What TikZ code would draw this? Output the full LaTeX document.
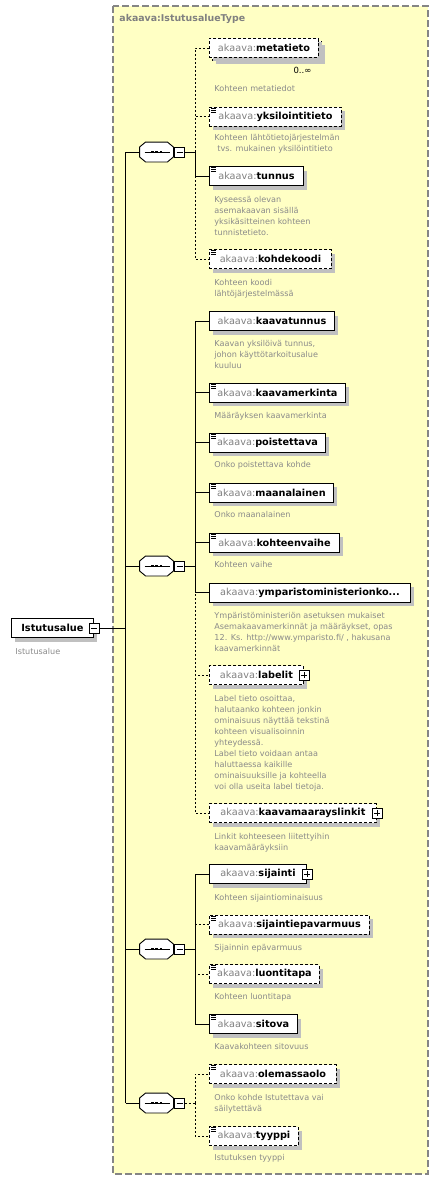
\documentclass[tikz,border=0pt]{standalone}
\usepackage{fontspec}
\setmainfont{DejaVu Sans}
\usetikzlibrary{shadows}
\definecolor{bgyellow}{HTML}{FFFFC4}
\definecolor{pfx}{HTML}{808080}
\definecolor{desccol}{HTML}{8A8A8A}
\definecolor{shadowgray}{HTML}{C0C0C0}
\definecolor{framecol}{HTML}{858585}
\newcommand{\akn}[1]{\textcolor{pfx}{akaava:}\textbf{#1}}
\newcommand{\simpleicon}[1]{%
  \draw[line width=0.7pt] ([xshift=2pt,yshift=-1.5pt]#1.north west) -- +(5pt,0)
    ([xshift=2pt,yshift=-3.5pt]#1.north west) -- +(4.5pt,0)
    ([xshift=2pt,yshift=-5.5pt]#1.north west) -- +(4.5pt,0);}
\newcommand{\octpath}[1]{([xshift=6pt]#1.north west) -- ([xshift=-6pt]#1.north east) -- ([yshift=-5pt]#1.north east) -- ([yshift=5pt]#1.south east) -- ([xshift=-6pt]#1.south east) -- ([xshift=6pt]#1.south west) -- ([yshift=5pt]#1.south west) -- ([yshift=-5pt]#1.north west) -- cycle}
\newcommand{\seqshape}[1]{%
  \fill[shadowgray,shift={(4pt,-4pt)}] \octpath{#1};
  \draw[fill=white] \octpath{#1};
  \draw[line width=0.8pt] ([xshift=5pt]#1.west) -- ([xshift=-3pt]#1.east);
  \fill ([xshift=-5.6pt,yshift=-1.3pt]#1.center) rectangle ([xshift=-3pt,yshift=1.3pt]#1.center);
  \fill ([xshift=-1.3pt,yshift=-1.3pt]#1.center) rectangle ([xshift=1.3pt,yshift=1.3pt]#1.center);
  \fill ([xshift=3pt,yshift=-1.3pt]#1.center) rectangle ([xshift=5.6pt,yshift=1.3pt]#1.center);}
\begin{document}
\begin{tikzpicture}[x=1pt,y=-1pt,line width=0.9pt,
  shad/.style={drop shadow={shadow xshift=4pt,shadow yshift=-4pt,fill=shadowgray,opacity=1}},
  elem/.style={draw=black,fill=white,shad,anchor=west,minimum height=19pt,inner sep=0pt,font=\fontsize{9.7}{11}\selectfont},
  optbox/.style={elem,dash pattern=on 3pt off 2pt},
  opt/.style={dash pattern=on 2pt off 2pt},
  desctext/.style={anchor=north west,inner sep=0pt,align=left,text=desccol,font=\fontsize{8.1}{11}\selectfont},
  btn/.style={draw=black,fill=white,minimum size=10pt,inner sep=0pt,line width=0.8pt},
  minusbtn/.style={btn,path picture={\draw[line width=0.8pt] ([xshift=2pt]path picture bounding box.west) -- ([xshift=-2pt]path picture bounding box.east);}},
  plusbtn/.style={btn,path picture={\draw[line width=0.8pt] ([xshift=2pt]path picture bounding box.west) -- ([xshift=-2pt]path picture bounding box.east) ([yshift=2pt]path picture bounding box.south) -- ([yshift=-2pt]path picture bounding box.north);}},
  seqbox/.style={rectangle,minimum width=33pt,minimum height=19pt,inner sep=0pt},
]
\useasboundingbox (0,0) rectangle (439,1180);
\fill[white] (0,0) rectangle (439,1180);
% type frame
\draw[framecol,fill=bgyellow,line width=1.3pt,dash pattern=on 7pt off 3pt] (113,6) rectangle (428,1174);
\node[anchor=west,inner sep=0pt,text=pfx,font=\fontsize{9.4}{11}\selectfont\bfseries] (typename) at (119,19) {akaava:IstutusalueType};

% main element
\node[elem,minimum width=82pt,font=\fontsize{9.8}{11}\selectfont\bfseries] (istutusalue) at (11,628) {Istutusalue};
\node[minusbtn] (m0) at (istutusalue.east) {};
\node[desctext] (d0) at (15,646.3) {\strut Istutusalue};

% trunk
\coordinate (t0) at (125.5,628);
\coordinate (tr1) at (125.5,152);
\coordinate (tr2) at (125.5,566);
\coordinate (tr3) at (125.5,949);
\coordinate (tr4) at (125.5,1103);
\draw (m0.east) -- (t0);
\draw (tr1) -- (tr4);

% sequences
\node[seqbox] (seq1) at (156.5,152) {};
\node[seqbox] (seq2) at (156.5,566) {};
\node[seqbox] (seq3) at (156.5,949) {};
\node[seqbox] (seq4) at (156.5,1103) {};
\seqshape{seq1}
\seqshape{seq2}
\seqshape{seq3}
\seqshape{seq4}
\node[minusbtn] (sm1) at (179.5,152) {};
\node[minusbtn] (sm2) at (179.5,566) {};
\node[minusbtn] (sm3) at (179.5,949) {};
\node[minusbtn] (sm4) at (179.5,1103) {};
\draw (tr1) -- (seq1.west);
\draw (tr2) -- (seq2.west);
\draw (tr3) -- (seq3.west);
\draw (tr4) -- (seq4.west);
\coordinate (b1) at (195,152);
\coordinate (b2) at (195,566);
\coordinate (b3) at (195,949);
\coordinate (b4) at (195,1103);
\draw (sm1.east) -- (b1);
\draw (sm2.east) -- (b2);
\draw (sm3.east) -- (b3);
\draw[opt] (sm4.east) -- (b4);

% ---- sequence 1
\node[optbox,minimum width=109pt] (metaback) at (212,51) {};
\node[optbox,minimum width=109pt] (metatieto) at (209,48) {\akn{metatieto}};
\node[inner sep=0pt,font=\fontsize{8.5}{10}\selectfont] (occ) at (302.5,70) {0..∞};
\node[desctext] (dmeta) at (214,83.3) {\strut Kohteen metatiedot};

\node[optbox,minimum width=132pt] (yksilointitieto) at (209,116.5) {\akn{yksilointitieto}};
\simpleicon{yksilointitieto}
\node[desctext] (dyks) at (214,132.6) {\strut Kohteen lähtötietojärjestelmän\\\hspace*{3pt}tvs. mukainen yksilöintitieto};

\node[elem,minimum width=94pt] (tunnus) at (209,176) {\akn{tunnus}};
\simpleicon{tunnus}
\node[desctext] (dtun) at (214,194.3) {\strut Kyseessä olevan\\asemakaavan sisällä\\yksikäsitteinen kohteen\\tunnistetieto.};

\node[optbox,minimum width=122pt] (kohdekoodi) at (209,259) {\akn{kohdekoodi}};
\simpleicon{kohdekoodi}
\node[desctext] (dkoh) at (214,277) {\strut Kohteen koodi\\lähtöjärjestelmässä};

\draw[opt] (b1) |- (metatieto.west);
\draw[opt] (b1) |- (yksilointitieto.west);
\draw[opt] (b1) |- (kohdekoodi.west);
\draw (b1) |- (tunnus.west);

% ---- sequence 2
\node[elem,minimum width=125pt] (kaavatunnus) at (209,321) {\akn{kaavatunnus}};
\node[desctext] (dkt) at (214,338) {\strut Kaavan yksilöivä tunnus,\\johon käyttötarkoitusalue\\kuuluu};

\node[elem,minimum width=136pt] (kaavamerkinta) at (209,392.5) {\akn{kaavamerkinta}};
\simpleicon{kaavamerkinta}
\node[desctext] (dkm) at (214,410.3) {\strut Määräyksen kaavamerkinta};

\node[elem,minimum width=116pt] (poistettava) at (209,442.5) {\akn{poistettava}};
\simpleicon{poistettava}
\node[desctext] (dpoi) at (214,459.3) {\strut Onko poistettava kohde};

\node[elem,minimum width=124pt] (maanalainen) at (209,492.5) {\akn{maanalainen}};
\simpleicon{maanalainen}
\node[desctext] (dmaa) at (214,509.6) {\strut Onko maanalainen};

\node[elem,minimum width=130pt] (kohteenvaihe) at (209,542.5) {\akn{kohteenvaihe}};
\simpleicon{kohteenvaihe}
\node[desctext] (dkhv) at (214,559.6) {\strut Kohteen vaihe};

\node[elem,minimum width=201pt] (ymparisto) at (209,592.5) {\akn{ymparistoministerionko...}};
\node[desctext] (dymp) at (214,610.3) {\strut Ympäristöministeriön asetuksen mukaiset\\Asemakaavamerkinnät ja määräykset, opas\\12. Ks. http://www.ymparisto.fi/ , hakusana\\kaavamerkinnät};

\node[optbox,minimum width=94pt] (labelit) at (209,675) {\akn{labelit}\hspace{10pt}};
\node[plusbtn] (plab) at (labelit.east) {};
\node[desctext] (dlab) at (214,693) {\strut Label tieto osoittaa,\\halutaanko kohteen jonkin\\ominaisuus näyttää tekstinä\\kohteen visualisoinnin\\yhteydessä.\\Label tieto voidaan antaa\\haluttaessa kaikille\\ominaisuuksille ja kohteella\\voi olla useita label tietoja.};

\node[optbox,minimum width=167pt] (kaavamaarayslinkit) at (209,813) {\akn{kaavamaarayslinkit}\hspace{8pt}};
\node[plusbtn] (pkml) at (kaavamaarayslinkit.east) {};
\node[desctext] (dkml) at (214,831) {\strut Linkit kohteeseen liitettyihin\\kaavamääräyksiin};

\draw[opt] (b2) |- (labelit.west);
\draw[opt] (b2) |- (kaavamaarayslinkit.west);
\draw (b2) |- (kaavatunnus.west);
\draw (b2) |- (kaavamerkinta.west);
\draw (b2) |- (poistettava.west);
\draw (b2) |- (maanalainen.west);
\draw (b2) |- (kohteenvaihe.west);
\draw (b2) |- (ymparisto.west);

% ---- sequence 3
\node[elem,minimum width=97pt] (sijainti) at (209,874) {\akn{sijainti}\hspace{8pt}};
\node[plusbtn] (psij) at (sijainti.east) {};
\node[desctext] (dsij) at (214,892) {\strut Kohteen sijaintiominaisuus};

\node[optbox,minimum width=160pt] (sijaintiepavarmuus) at (209,924.5) {\akn{sijaintiepavarmuus}};
\simpleicon{sijaintiepavarmuus}
\node[desctext] (dsep) at (214,942) {\strut Sijainnin epävarmuus};

\node[optbox,minimum width=110pt] (luontitapa) at (209,974) {\akn{luontitapa}};
\simpleicon{luontitapa}
\node[desctext] (dlt) at (214,991.3) {\strut Kohteen luontitapa};

\node[elem,minimum width=88pt] (sitova) at (209,1024) {\akn{sitova}};
\simpleicon{sitova}
\node[desctext] (dsit) at (214,1041.3) {\strut Kaavakohteen sitovuus};

\draw[opt] (b3) |- (sijaintiepavarmuus.west);
\draw[opt] (b3) |- (luontitapa.west);
\draw (b3) |- (sijainti.west);
\draw (b3) |- (sitova.west);

% ---- sequence 4
\node[optbox,minimum width=127pt] (olemassaolo) at (209,1074) {\akn{olemassaolo}};
\simpleicon{olemassaolo}
\node[desctext] (dole) at (214,1092) {\strut Onko kohde Istutettava vai\\säilytettävä};

\node[optbox,minimum width=89pt] (tyyppi) at (209,1136) {\akn{tyyppi}};
\simpleicon{tyyppi}
\node[desctext] (dtyy) at (214,1152) {\strut Istutuksen tyyppi};

\draw[opt] (b4) |- (olemassaolo.west);
\draw[opt] (b4) |- (tyyppi.west);
\end{tikzpicture}
\end{document}
